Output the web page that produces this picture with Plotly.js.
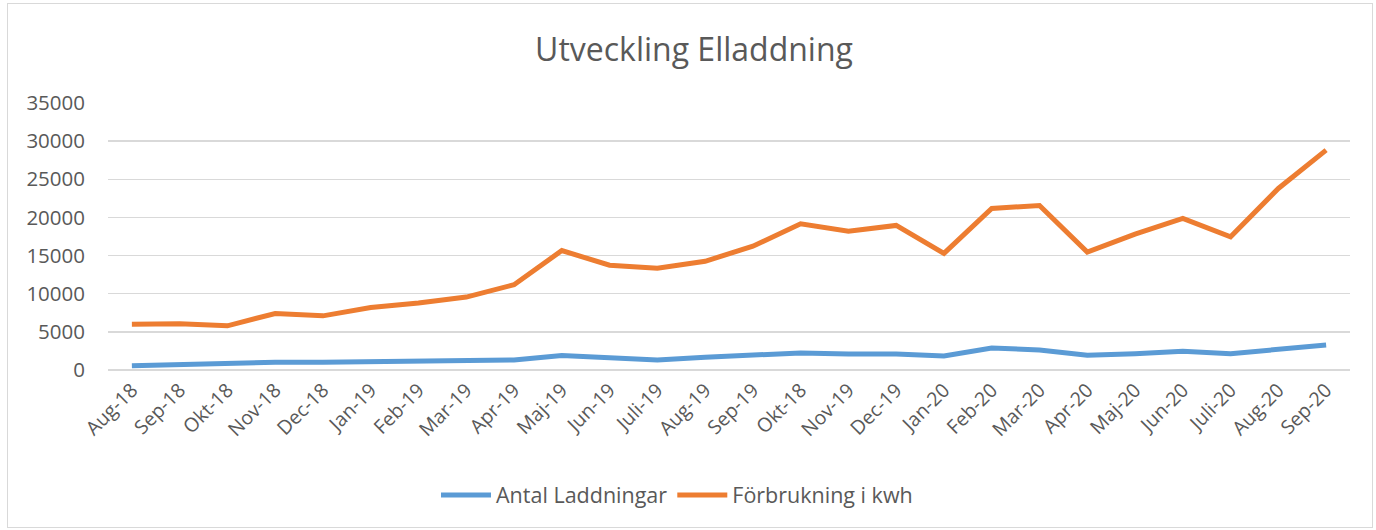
<!DOCTYPE html>
<html>
<head>
<meta charset="utf-8">
<script src="https://cdn.plot.ly/plotly-3.0.1.min.js"></script>
<style>
  html, body { margin: 0; padding: 0; background: #ffffff; }
  #chart { width: 1376px; height: 530px; }
  #frame { position: absolute; left: 7px; top: 3px; width: 1364px; height: 523px; border: 1px solid #d9d9d9; pointer-events: none; }
</style>
</head>
<body>
<div id="chart"></div>
<div id="frame"></div>
<script>
const months = ["Aug-18","Sep-18","Okt-18","Nov-18","Dec-18","Jan-19","Feb-19","Mar-19","Apr-19","Maj-19","Jun-19","Juli-19","Aug-19","Sep-19","Okt-18","Nov-19","Dec-19","Jan-20","Feb-20","Mar-20","Apr-20","Maj-20","Jun-20","Juli-20","Aug-20","Sep-20"];
const antalLaddningar = [570,750,880,1010,1010,1050,1100,1180,1320,1890,1540,1320,1670,1890,2240,2100,2100,1830,2880,2620,1920,2140,2450,2140,2790,3280];
const forbrukningKwh = [6000,6050,5790,7410,7100,8200,8770,9560,11180,15660,13730,13330,14250,16230,19170,18200,18950,15280,21180,21570,15460,17820,19870,17470,23800,28820];
const yTicks = [0,5000,10000,15000,20000,25000,30000,35000];

const xIdx = months.map((_, i) => i);
const fontFam = '"Open Sans", "Liberation Sans", sans-serif';
const grey = '#595959';

const traces = [
  { x: xIdx, y: antalLaddningar, name: 'Antal Laddningar', type: 'scatter', mode: 'lines',
    line: { color: '#5b9bd5', width: 5 } },
  { x: xIdx, y: forbrukningKwh, name: 'Förbrukning i kwh', type: 'scatter', mode: 'lines',
    line: { color: '#ed7d31', width: 5 } }
];

const layout = {
  width: 1376, height: 530,
  margin: { l: 108, r: 26, t: 103, b: 160 },
  paper_bgcolor: '#ffffff', plot_bgcolor: '#ffffff',
  font: { family: fontFam, color: grey, size: 20 },
  title: { text: 'Utveckling Elladdning', font: { family: fontFam, size: 32, color: grey },
           x: 694/1376, xanchor: 'center', y: 1 - 50/530, yanchor: 'middle', yref: 'container' },
  xaxis: {
    type: 'linear', range: [-0.5, months.length - 0.5],
    tickmode: 'array', tickvals: xIdx, ticktext: months,
    tickangle: -45, showgrid: false, zeroline: false,
    showline: false, ticks: '', ticklabelstandoff: 4,
    tickfont: { family: fontFam, size: 19.5, color: grey }, fixedrange: true
  },
  yaxis: {
    range: [0, 35000], tickmode: 'array', tickvals: yTicks, ticktext: yTicks.map(String),
    showgrid: true, gridcolor: '#d9d9d9', gridwidth: 1.5,
    zeroline: true, zerolinecolor: '#d9d9d9', zerolinewidth: 1.5,
    showline: false, ticks: '', ticklabelstandoff: 22,
    tickfont: { family: fontFam, size: 20.5, color: grey }, fixedrange: true
  },
  showlegend: true,
  legend: { orientation: 'h', x: (677-108)/1242, xanchor: 'center', y: -(495-370)/267, yanchor: 'middle',
            font: { family: fontFam, size: 21.5, color: grey }, itemwidth: 50, traceorder: 'normal' }
};

Plotly.newPlot('chart', traces, layout, { displayModeBar: false, staticPlot: true });
</script>
</body>
</html>
